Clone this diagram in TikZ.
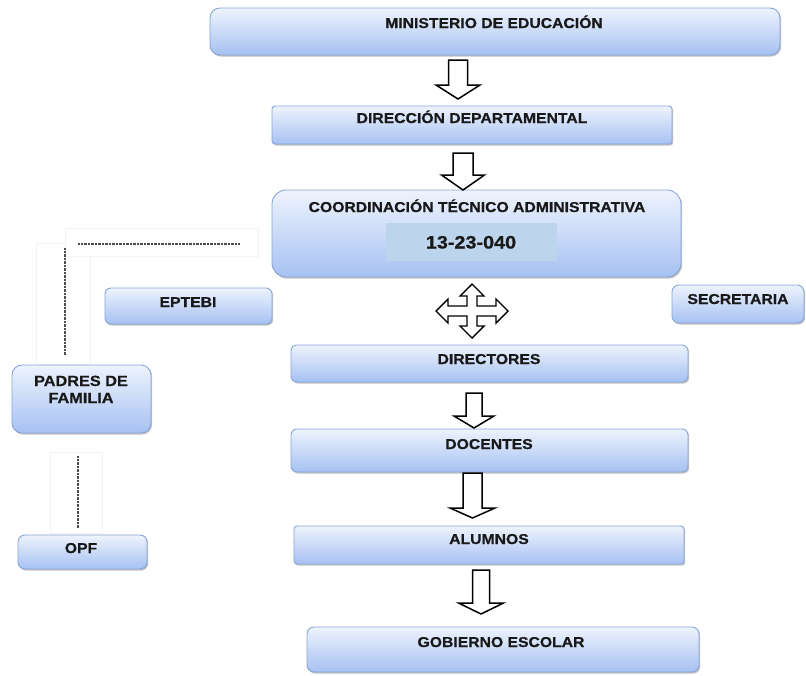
\documentclass[tikz,border=0pt]{standalone}
\usepackage{fontspec}
\setmainfont[FakeStretch=1.1, BoldFeatures={FakeBold=0.6}]{Liberation Sans}
\usetikzlibrary{shadows}
\definecolor{boxtop}{HTML}{EEF3FD}
\definecolor{boxbot}{HTML}{A6C1F2}
\definecolor{boxline}{HTML}{86A5D9}
\definecolor{numfill}{HTML}{BDD5EC}
\definecolor{faint}{HTML}{F3F3F3}
\tikzset{
  orgbox/.style={draw=boxline, line width=0.9pt, top color=boxtop, bottom color=boxbot,
    drop shadow={shadow xshift=1.2pt, shadow yshift=-1.6pt, opacity=0.4, fill=black!60},
    anchor=north west, inner sep=0pt, outer sep=0pt},
  lbl/.style={font=\fontsize{14.3}{17}\selectfont\bfseries, text=black!90, inner sep=0pt, anchor=base, align=center},
  barrow/.style={draw=black, line width=1.5pt, fill=white, line join=miter},
  dotline/.style={draw=black!70, line width=1.3pt, dash pattern=on 0.7pt off 0.7pt},
  faintbox/.style={draw=faint, line width=0.6pt, fill=white}
}
\newcommand\downarr[6]{%
  \draw[barrow] ({#1-#5},#2) -- ({#1+#5},#2) -- ({#1+#5},#3) -- ({#1+#6},#3) -- (#1,#4)
    -- ({#1-#6},#3) -- ({#1-#5},#3) -- cycle;}
\begin{document}
\begin{tikzpicture}[x=1pt,y=-1pt]
\useasboundingbox (0,0) rectangle (806,675);

% faint text-box outlines and dotted lines
\draw[faintbox] (36,243) rectangle (90,364);
\draw[faintbox] (65,228) rectangle (258,256);
\draw[faintbox] (50,452) rectangle (102,533);
\coordinate (h1) at (78,244);
\coordinate (h2) at (240,244);
\coordinate (v1) at (65,248);
\coordinate (v2) at (65,355);
\coordinate (w1) at (78,456);
\coordinate (w2) at (78,528);
\draw[dotline] (h1) -- (h2);
\draw[dotline] (v1) -- (v2);
\draw[dotline] (w1) -- (w2);

% boxes
\node[orgbox, rounded corners=10pt, minimum width=570pt, minimum height=47pt] (min) at (210,8) {};
\node[orgbox, rounded corners=3pt, minimum width=400pt, minimum height=38pt] (dir) at (272,106) {};
\node[orgbox, rounded corners=14pt, minimum width=409pt, minimum height=87pt] (coord) at (272,190) {};
\node[anchor=north west, fill=numfill, inner sep=0pt, minimum width=171pt, minimum height=38pt] (num) at (386,223) {};
\node[orgbox, rounded corners=6pt, minimum width=167pt, minimum height=36pt] (eptebi) at (105,288) {};
\node[orgbox, rounded corners=7pt, minimum width=132pt, minimum height=38pt] (sec) at (672,285) {};
\node[orgbox, rounded corners=10pt, minimum width=139pt, minimum height=68pt] (padres) at (12,365) {};
\node[orgbox, rounded corners=7pt, minimum width=129pt, minimum height=34pt] (opf) at (18,535) {};
\node[orgbox, rounded corners=6pt, minimum width=397pt, minimum height=37pt] (directores) at (291,345) {};
\node[orgbox, rounded corners=6pt, minimum width=397pt, minimum height=43pt] (docentes) at (291,429) {};
\node[orgbox, rounded corners=3pt, minimum width=390pt, minimum height=38pt] (alumnos) at (294,526) {};
\node[orgbox, rounded corners=7pt, minimum width=392pt, minimum height=45pt] (gob) at (307,627) {};

% labels
\node[lbl] (tmin) at (494,28) {MINISTERIO DE EDUCACIÓN};
\node[lbl] (tdir) at (472,123) {DIRECCIÓN DEPARTAMENTAL};
\node[lbl] (tcoord) at (477,212) {COORDINACIÓN TÉCNICO ADMINISTRATIVA};
\node[lbl, font=\fontsize{18}{20}\selectfont\bfseries] (tnum) at (471,248.5) {13-23-040};
\node[lbl] (teptebi) at (188,307) {EPTEBI};
\node[lbl] (tsec) at (738,304) {SECRETARIA};
\node[lbl, font=\fontsize{14.8}{17}\selectfont\bfseries] (tpadres) at (81,403) {PADRES DE\\FAMILIA};
\node[lbl] (topf) at (81,553) {OPF};
\node[lbl] (tdirectores) at (489,364) {DIRECTORES};
\node[lbl] (tdocentes) at (489,449) {DOCENTES};
\node[lbl] (talumnos) at (489,544) {ALUMNOS};
\node[lbl] (tgob) at (501,647) {GOBIERNO ESCOLAR};

% block arrows
\downarr{458}{60}{85}{99}{9.5}{22}
\downarr{463}{153}{175}{190}{10}{21.5}
\downarr{474}{393}{416}{428}{8}{20}
\downarr{472.5}{473}{508}{518}{9.5}{22.5}
\downarr{481}{570}{603}{614}{8.5}{22.5}

% four-way arrow
\draw[barrow, line width=1.4pt] (472,311) ++(0,-27) -- ++(12,12) -- ++(-7,0) -- ++(0,10) -- ++(19,0) -- ++(0,-7)
  -- ++(12,12) -- ++(-12,12) -- ++(0,-7) -- ++(-19,0) -- ++(0,10) -- ++(7,0) -- ++(-12,12)
  -- ++(-12,-12) -- ++(7,0) -- ++(0,-10) -- ++(-19,0) -- ++(0,7) -- ++(-12,-12) -- ++(12,-12)
  -- ++(0,7) -- ++(19,0) -- ++(0,-10) -- ++(-7,0) -- cycle;
\end{tikzpicture}
\end{document}
